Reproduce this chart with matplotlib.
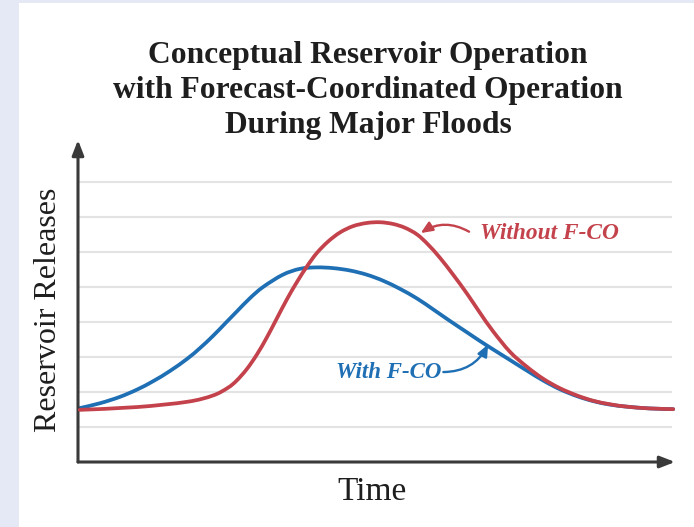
import matplotlib
matplotlib.use("Agg")
import matplotlib.pyplot as plt
from matplotlib.patches import Rectangle, PathPatch
from matplotlib.path import Path

# ---- data (arbitrary units) ----
time_with = [0.03, 0.37, 0.70, 0.99, 1.26, 1.54, 1.83, 2.04, 2.26, 2.46, 2.66, 2.88,
             3.10, 3.43, 3.72, 4.00, 4.27, 4.56, 4.84, 5.11, 5.39, 5.68, 5.95, 6.23,
             6.52, 6.73, 6.95, 7.24, 7.52, 7.79, 8.07, 8.36, 8.63, 8.91, 9.20, 9.58, 9.97]
release_with = [1.54, 1.68, 1.86, 2.07, 2.31, 2.60, 2.95, 3.25, 3.60, 3.95, 4.30, 4.68,
                5.00, 5.35, 5.52, 5.56, 5.54, 5.47, 5.35, 5.18, 4.95, 4.67, 4.36, 4.03,
                3.70, 3.46, 3.22, 2.91, 2.61, 2.33, 2.08, 1.88, 1.74, 1.64, 1.58, 1.53, 1.51]

time_without = [0.03, 0.99, 1.83, 2.26, 2.51, 2.66, 2.83, 3.00, 3.17, 3.33, 3.50, 3.67,
                3.84, 4.00, 4.19, 4.39, 4.61, 4.84, 5.06, 5.28, 5.48, 5.68, 5.86, 6.06,
                6.28, 6.52, 6.73, 6.95, 7.24, 7.52, 7.79, 8.07, 8.36, 8.63, 8.91, 9.20,
                9.58, 9.97]
release_without = [1.49, 1.57, 1.72, 1.90, 2.12, 2.33, 2.66, 3.08, 3.58, 4.10, 4.65, 5.15,
                   5.60, 5.97, 6.30, 6.56, 6.74, 6.83, 6.85, 6.80, 6.69, 6.50, 6.22, 5.84,
                   5.36, 4.80, 4.27, 3.74, 3.14, 2.72, 2.38, 2.11, 1.90, 1.75, 1.65, 1.58,
                   1.53, 1.51]

grid_levels = [1, 2, 3, 4, 5, 6, 7, 8]

title_lines = ["Conceptual Reservoir Operation",
               "with Forecast-Coordinated Operation",
               "During Major Floods"]
label_with = "With F-CO"
label_without = "Without F-CO"

RED = "#c4424b"
BLUE = "#1f6fb4"
SERIF = ["Liberation Serif", "DejaVu Serif"]


def smooth_path(xs, ys):
    """Catmull-Rom curve through the given points, as a cubic Bezier path."""
    pts = list(zip(xs, ys))
    verts = [pts[0]]
    codes = [Path.MOVETO]
    n = len(pts)
    for i in range(n - 1):
        p0 = pts[max(i - 1, 0)]
        p1 = pts[i]
        p2 = pts[i + 1]
        p3 = pts[min(i + 2, n - 1)]
        c1 = (p1[0] + (p2[0] - p0[0]) / 6, p1[1] + (p2[1] - p0[1]) / 6)
        c2 = (p2[0] - (p3[0] - p1[0]) / 6, p2[1] - (p3[1] - p1[1]) / 6)
        verts += [c1, c2, p2]
        codes += [Path.CURVE4] * 3
    return Path(verts, codes)


W, H = 694, 527
fig = plt.figure(figsize=(W / 100, H / 100), dpi=100)
fig.patch.set_facecolor("#e4e9f5")
fig.patches.append(Rectangle((19 / W, 0), 1 - 19 / W, (H - 3) / H,
                             transform=fig.transFigure, facecolor="white",
                             edgecolor="none", zorder=-10))

# axes: x 78..675 px, y 140..462 px
ax = fig.add_axes([78 / W, (H - 462) / H, (675 - 78) / W, (462 - 140) / H])
ax.set_zorder(5)
ax.set_facecolor("none")
ax.set_xlim(0, 10)
ax.set_ylim(0, 9.2)
for s in ax.spines.values():
    s.set_visible(False)
ax.set_xticks([])
ax.set_yticks([])

ax.hlines(grid_levels, 0, 9.95, colors="#e3e3e3", linewidth=1.5, zorder=1)

ax.add_patch(PathPatch(smooth_path(time_with, release_with), facecolor="none",
                       edgecolor=BLUE, lw=2.7, capstyle="round", joinstyle="round",
                       zorder=3))
ax.add_patch(PathPatch(smooth_path(time_without, release_without), facecolor="none",
                       edgecolor=RED, lw=2.7, capstyle="round", joinstyle="round",
                       zorder=4))

# axis arrows
arrow_kw = dict(arrowstyle="-|>,head_length=0.9,head_width=0.35", color="#3a3a3a",
                lw=2.2, shrinkA=0, shrinkB=0)
ax.annotate("", xy=(0, 1), xytext=(0, 0), xycoords="axes fraction",
            arrowprops=arrow_kw, annotation_clip=False)
ax.annotate("", xy=(1, 0), xytext=(0, 0), xycoords="axes fraction",
            arrowprops=arrow_kw, annotation_clip=False)

# curve labels
ax.text(6.73, 6.54, label_without, color=RED, fontsize=16.8, style="italic",
        weight="bold", family=SERIF, ha="left", va="center")
ax.annotate("", xy=(5.74, 6.54), xytext=(6.55, 6.58),
            arrowprops=dict(arrowstyle="-|>,head_length=0.7,head_width=0.3",
                            color=RED, lw=1.7, shrinkA=0, shrinkB=0,
                            connectionstyle="arc3,rad=0.3"))
ax.text(6.08, 2.57, label_with, color=BLUE, fontsize=16.5, style="italic",
        weight="bold", family=SERIF, ha="right", va="center")
ax.annotate("", xy=(6.87, 3.36), xytext=(6.12, 2.57),
            arrowprops=dict(arrowstyle="-|>,head_length=0.7,head_width=0.3",
                            color=BLUE, lw=1.7, shrinkA=0, shrinkB=0,
                            connectionstyle="arc3,rad=0.3"))

# title
for i, line in enumerate(title_lines):
    fig.text(368 / W, 1 - (63 + 35 * i) / H, line, ha="center", va="baseline",
             fontsize=22.7, weight="bold", family=SERIF, color="#1e1e1e")

# axis labels
fig.text(49 / W, 1 - 310 / H, "Reservoir Releases", rotation=90, ha="center",
         va="center", fontsize=23, family=SERIF, color="#1e1e1e")
fig.text(372 / W, 1 - 500 / H, "Time", ha="center", va="baseline",
         fontsize=24, family=SERIF, color="#1e1e1e")

fig.savefig("out.png", dpi=100, facecolor=fig.get_facecolor())
